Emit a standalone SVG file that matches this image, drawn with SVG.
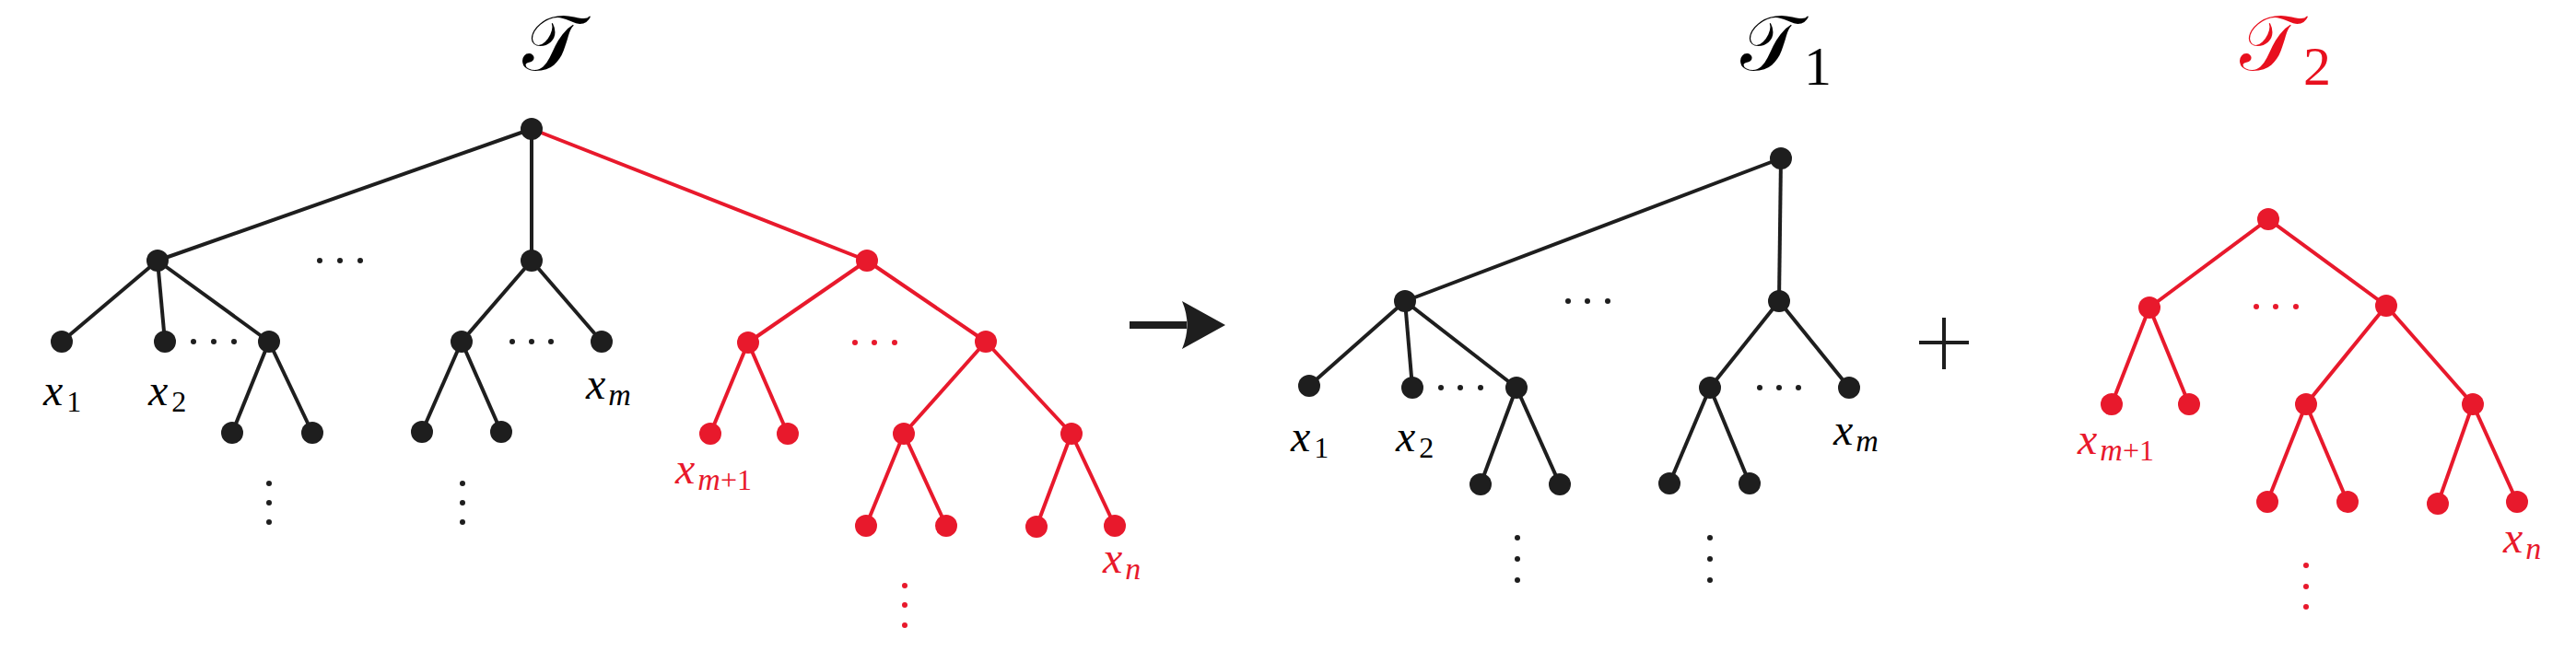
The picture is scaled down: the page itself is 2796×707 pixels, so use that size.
<svg xmlns="http://www.w3.org/2000/svg" width="2796" height="707" viewBox="0 0 2796 707">
<style>
.k{stroke:#1e1e1e;stroke-width:4;fill:none}
.r{stroke:#e8192c;stroke-width:4;fill:none}
.nk{fill:#1e1e1e}
.nr{fill:#e8192c}
.dk{fill:#1e1e1e}
.dr{fill:#e8192c}
.lbl{font-family:"Liberation Serif","DejaVu Serif",serif;font-size:48px;font-style:italic}
.sub{font-size:34px}
.up{font-style:normal;font-size:32px}
.ttl{font-family:"DejaVu Sans","Noto Sans",sans-serif;font-size:84px}
.tsub{font-family:"Liberation Serif","DejaVu Serif",serif;font-size:60px}
</style>
<rect width="2796" height="707" fill="#ffffff"/>

<g id="connectors">
  <!-- Tree T -->
  <line class="k" x1="577" y1="140" x2="171" y2="283"/>
  <line class="k" x1="577" y1="140" x2="577" y2="283"/>
  <line class="r" x1="577" y1="140" x2="941" y2="283"/>
  <line class="k" x1="171" y1="283" x2="67" y2="371"/>
  <line class="k" x1="171" y1="283" x2="179" y2="371"/>
  <line class="k" x1="171" y1="283" x2="292" y2="371"/>
  <line class="k" x1="292" y1="371" x2="252" y2="470"/>
  <line class="k" x1="292" y1="371" x2="339" y2="470"/>
  <line class="k" x1="577" y1="283" x2="501" y2="371"/>
  <line class="k" x1="577" y1="283" x2="653" y2="371"/>
  <line class="k" x1="501" y1="371" x2="458" y2="469"/>
  <line class="k" x1="501" y1="371" x2="544" y2="469"/>
  <line class="r" x1="941" y1="283" x2="812" y2="372"/>
  <line class="r" x1="941" y1="283" x2="1070" y2="371"/>
  <line class="r" x1="812" y1="372" x2="771" y2="471"/>
  <line class="r" x1="812" y1="372" x2="855" y2="471"/>
  <line class="r" x1="1070" y1="371" x2="981" y2="471"/>
  <line class="r" x1="1070" y1="371" x2="1163" y2="471"/>
  <line class="r" x1="981" y1="471" x2="940" y2="571"/>
  <line class="r" x1="981" y1="471" x2="1027" y2="571"/>
  <line class="r" x1="1163" y1="471" x2="1125" y2="572"/>
  <line class="r" x1="1163" y1="471" x2="1210" y2="571"/>
  <!-- Tree T1 -->
  <line class="k" x1="1933" y1="172" x2="1525" y2="327"/>
  <line class="k" x1="1933" y1="172" x2="1931" y2="327"/>
  <line class="k" x1="1525" y1="327" x2="1421" y2="419"/>
  <line class="k" x1="1525" y1="327" x2="1533" y2="421"/>
  <line class="k" x1="1525" y1="327" x2="1646" y2="421"/>
  <line class="k" x1="1646" y1="421" x2="1607" y2="526"/>
  <line class="k" x1="1646" y1="421" x2="1693" y2="526"/>
  <line class="k" x1="1931" y1="327" x2="1856" y2="421"/>
  <line class="k" x1="1931" y1="327" x2="2007" y2="421"/>
  <line class="k" x1="1856" y1="421" x2="1812" y2="525"/>
  <line class="k" x1="1856" y1="421" x2="1899" y2="525"/>
  <!-- Tree T2 -->
  <line class="r" x1="2462" y1="238" x2="2333" y2="334"/>
  <line class="r" x1="2462" y1="238" x2="2590" y2="332"/>
  <line class="r" x1="2333" y1="334" x2="2292" y2="439"/>
  <line class="r" x1="2333" y1="334" x2="2376" y2="439"/>
  <line class="r" x1="2590" y1="332" x2="2503" y2="439"/>
  <line class="r" x1="2590" y1="332" x2="2684" y2="439"/>
  <line class="r" x1="2503" y1="439" x2="2461" y2="545"/>
  <line class="r" x1="2503" y1="439" x2="2548" y2="545"/>
  <line class="r" x1="2684" y1="439" x2="2646" y2="547"/>
  <line class="r" x1="2684" y1="439" x2="2732" y2="545"/>
</g>

<!-- Titles -->
<g id="title-T"><text class="ttl" x="567" y="76">𝒯</text></g>
<g id="title-T1"><text class="ttl" x="1889" y="76">𝒯</text><text class="tsub" x="1958" y="92">1</text></g>
<g id="title-T2"><text class="ttl" x="2431" y="76" fill="#e8101e">𝒯</text><text class="tsub" x="2500" y="92" fill="#e8101e">2</text></g>

<!-- Tree T nodes -->
<g id="T-root"><circle class="nk" cx="577" cy="140" r="12"/></g>
<g id="T-a"><circle class="nk" cx="171" cy="283" r="12"/></g>
<g id="T-b"><circle class="nk" cx="577" cy="283" r="12"/></g>
<g id="T-c"><circle class="nr" cx="941" cy="283" r="12"/></g>
<g id="T-x1"><circle class="nk" cx="67" cy="371" r="12"/><text class="lbl" x="47" y="440">x<tspan class="sub up" dx="4" dy="7">1</tspan></text></g>
<g id="T-x2"><circle class="nk" cx="179" cy="371" r="12"/><text class="lbl" x="161" y="440">x<tspan class="sub up" dx="4" dy="7">2</tspan></text></g>
<g id="T-a3"><circle class="nk" cx="292" cy="371" r="12"/></g>
<g id="T-a3l"><circle class="nk" cx="252" cy="470" r="12"/></g>
<g id="T-a3r"><circle class="nk" cx="339" cy="470" r="12"/></g>
<g id="T-b1"><circle class="nk" cx="501" cy="371" r="12"/></g>
<g id="T-xm"><circle class="nk" cx="653" cy="371" r="12"/><text class="lbl" x="636" y="433">x<tspan class="sub" dx="3" dy="7">m</tspan></text></g>
<g id="T-b1l"><circle class="nk" cx="458" cy="469" r="12"/></g>
<g id="T-b1r"><circle class="nk" cx="544" cy="469" r="12"/></g>
<g id="T-c1"><circle class="nr" cx="812" cy="372" r="12"/></g>
<g id="T-xm1"><circle class="nr" cx="771" cy="471" r="12"/><text class="lbl" x="733" y="525" fill="#e8192c">x<tspan class="sub" dx="3" dy="7">m</tspan><tspan class="sub up">+1</tspan></text></g>
<g id="T-c1r"><circle class="nr" cx="855" cy="471" r="12"/></g>
<g id="T-c2"><circle class="nr" cx="1070" cy="371" r="12"/></g>
<g id="T-c2a"><circle class="nr" cx="981" cy="471" r="12"/></g>
<g id="T-c2b"><circle class="nr" cx="1163" cy="471" r="12"/></g>
<g id="T-c2a1"><circle class="nr" cx="940" cy="571" r="12"/></g>
<g id="T-c2a2"><circle class="nr" cx="1027" cy="571" r="12"/></g>
<g id="T-c2b1"><circle class="nr" cx="1125" cy="572" r="12"/></g>
<g id="T-xn"><circle class="nr" cx="1210" cy="571" r="12"/><text class="lbl" x="1197" y="622" fill="#e8192c">x<tspan class="sub" dx="3" dy="7">n</tspan></text></g>

<!-- Tree T dots -->
<g id="T-dots">
  <circle class="dk" cx="347" cy="283" r="3"/><circle class="dk" cx="369" cy="283" r="3"/><circle class="dk" cx="391" cy="283" r="3"/>
  <circle class="dk" cx="210" cy="371" r="3"/><circle class="dk" cx="232" cy="371" r="3"/><circle class="dk" cx="254" cy="371" r="3"/>
  <circle class="dk" cx="556" cy="371" r="3"/><circle class="dk" cx="577" cy="371" r="3"/><circle class="dk" cx="598" cy="371" r="3"/>
  <circle class="dr" cx="928" cy="372" r="3"/><circle class="dr" cx="949" cy="372" r="3"/><circle class="dr" cx="971" cy="372" r="3"/>
  <circle class="dk" cx="292" cy="525" r="3"/><circle class="dk" cx="292" cy="546" r="3"/><circle class="dk" cx="292" cy="567" r="3"/>
  <circle class="dk" cx="502" cy="525" r="3"/><circle class="dk" cx="502" cy="546" r="3"/><circle class="dk" cx="502" cy="567" r="3"/>
  <circle class="dr" cx="982" cy="636" r="3"/><circle class="dr" cx="982" cy="657" r="3"/><circle class="dr" cx="982" cy="679" r="3"/>
</g>

<!-- Arrow -->
<g id="arrow">
  <rect x="1226" y="349" width="62" height="8" fill="#1e1e1e"/>
  <path d="M1283,327 L1330,353 L1283,379 Q1294,353 1283,327 Z" fill="#1e1e1e"/>
</g>

<!-- Tree T1 nodes -->
<g id="T1-root"><circle class="nk" cx="1933" cy="172" r="12"/></g>
<g id="T1-a"><circle class="nk" cx="1525" cy="327" r="12"/></g>
<g id="T1-b"><circle class="nk" cx="1931" cy="327" r="12"/></g>
<g id="T1-x1"><circle class="nk" cx="1421" cy="419" r="12"/><text class="lbl" x="1401" y="490">x<tspan class="sub up" dx="4" dy="7">1</tspan></text></g>
<g id="T1-x2"><circle class="nk" cx="1533" cy="421" r="12"/><text class="lbl" x="1515" y="490">x<tspan class="sub up" dx="4" dy="7">2</tspan></text></g>
<g id="T1-a3"><circle class="nk" cx="1646" cy="421" r="12"/></g>
<g id="T1-a3l"><circle class="nk" cx="1607" cy="526" r="12"/></g>
<g id="T1-a3r"><circle class="nk" cx="1693" cy="526" r="12"/></g>
<g id="T1-b1"><circle class="nk" cx="1856" cy="421" r="12"/></g>
<g id="T1-xm"><circle class="nk" cx="2007" cy="421" r="12"/><text class="lbl" x="1990" y="483">x<tspan class="sub" dx="3" dy="7">m</tspan></text></g>
<g id="T1-b1l"><circle class="nk" cx="1812" cy="525" r="12"/></g>
<g id="T1-b1r"><circle class="nk" cx="1899" cy="525" r="12"/></g>
<g id="T1-dots">
  <circle class="dk" cx="1702" cy="327" r="3"/><circle class="dk" cx="1723" cy="327" r="3"/><circle class="dk" cx="1745" cy="327" r="3"/>
  <circle class="dk" cx="1564" cy="421" r="3"/><circle class="dk" cx="1585" cy="421" r="3"/><circle class="dk" cx="1607" cy="421" r="3"/>
  <circle class="dk" cx="1910" cy="421" r="3"/><circle class="dk" cx="1931" cy="421" r="3"/><circle class="dk" cx="1952" cy="421" r="3"/>
  <circle class="dk" cx="1647" cy="584" r="3"/><circle class="dk" cx="1647" cy="607" r="3"/><circle class="dk" cx="1647" cy="630" r="3"/>
  <circle class="dk" cx="1856" cy="584" r="3"/><circle class="dk" cx="1856" cy="607" r="3"/><circle class="dk" cx="1856" cy="630" r="3"/>
</g>

<!-- Plus -->
<g id="plus">
  <line class="k" x1="2083" y1="372" x2="2137" y2="372" stroke-width="2.5"/>
  <line class="k" x1="2110" y1="345" x2="2110" y2="401" stroke-width="2.5"/>
</g>

<!-- Tree T2 nodes -->
<g id="T2-root"><circle class="nr" cx="2462" cy="238" r="12"/></g>
<g id="T2-a"><circle class="nr" cx="2333" cy="334" r="12"/></g>
<g id="T2-b"><circle class="nr" cx="2590" cy="332" r="12"/></g>
<g id="T2-xm1"><circle class="nr" cx="2292" cy="439" r="12"/><text class="lbl" x="2255" y="493" fill="#e8192c">x<tspan class="sub" dx="3" dy="7">m</tspan><tspan class="sub up">+1</tspan></text></g>
<g id="T2-a2"><circle class="nr" cx="2376" cy="439" r="12"/></g>
<g id="T2-b1"><circle class="nr" cx="2503" cy="439" r="12"/></g>
<g id="T2-b2"><circle class="nr" cx="2684" cy="439" r="12"/></g>
<g id="T2-b1l"><circle class="nr" cx="2461" cy="545" r="12"/></g>
<g id="T2-b1r"><circle class="nr" cx="2548" cy="545" r="12"/></g>
<g id="T2-b2l"><circle class="nr" cx="2646" cy="547" r="12"/></g>
<g id="T2-xn"><circle class="nr" cx="2732" cy="545" r="12"/><text class="lbl" x="2717" y="600" fill="#e8192c">x<tspan class="sub" dx="3" dy="7">n</tspan></text></g>
<g id="T2-dots">
  <circle class="dr" cx="2449" cy="333" r="3"/><circle class="dr" cx="2470" cy="333" r="3"/><circle class="dr" cx="2492" cy="333" r="3"/>
  <circle class="dr" cx="2503" cy="614" r="3"/><circle class="dr" cx="2503" cy="637" r="3"/><circle class="dr" cx="2503" cy="659" r="3"/>
</g>
</svg>
